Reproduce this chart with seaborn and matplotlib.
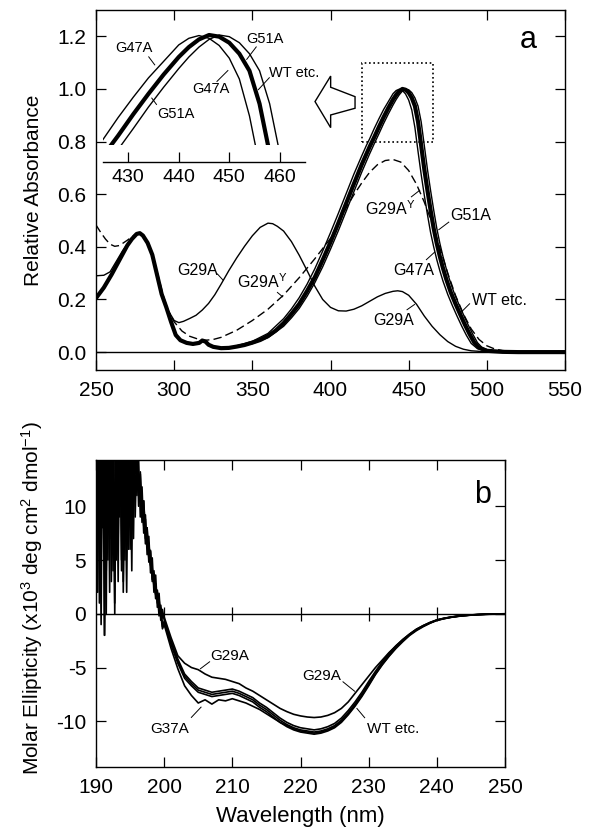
import numpy as np
import matplotlib
matplotlib.use("Agg")
import matplotlib.pyplot as plt
import seaborn as sns
from matplotlib.patches import Polygon, Rectangle

# ---------------- Panel a: absorbance spectra ----------------
wt_wl = [250, 255, 260, 265, 270, 273, 276, 278, 280, 283, 286, 289, 292, 295, 298, 301, 304, 308,
         312, 316, 318, 320, 322, 325, 330, 335, 340, 345, 350, 355, 360, 365, 370, 375, 380, 385,
         390, 395, 400, 405, 410, 415, 420, 425, 428, 431, 434, 437, 440, 442, 444, 446, 448, 450,
         452, 454, 456, 458, 460, 462, 464, 466, 468, 470, 472, 474, 477, 480, 483, 486, 489, 492,
         495, 500, 510, 520, 550]
wt_abs = [0.205, 0.245, 0.295, 0.35, 0.405, 0.43, 0.449, 0.452, 0.443, 0.415, 0.37, 0.295, 0.22,
          0.17, 0.115, 0.065, 0.045, 0.035, 0.031, 0.035, 0.044, 0.04, 0.028, 0.02, 0.015, 0.016,
          0.021, 0.027, 0.036, 0.046, 0.061, 0.082, 0.11, 0.145, 0.183, 0.232, 0.285, 0.35, 0.418,
          0.49, 0.565, 0.64, 0.713, 0.78, 0.817, 0.856, 0.893, 0.928, 0.96, 0.978, 0.992, 1.0, 0.997,
          0.986, 0.966, 0.935, 0.875, 0.785, 0.695, 0.615, 0.54, 0.47, 0.412, 0.362, 0.318, 0.278,
          0.226, 0.183, 0.143, 0.104, 0.068, 0.036, 0.017, 0.005, 0.001, 0.0, 0.0]

g47a_wl = [340, 350, 360, 370, 375, 380, 385, 390, 395, 400, 405, 410, 415, 420, 423, 425, 428, 431,
           434, 437, 440, 442, 444, 446, 448, 450, 452, 454, 456, 458, 460, 462, 464, 466, 468, 470,
           472, 475, 478, 481, 484, 487, 490, 494, 500, 510]
g47a_abs = [0.024, 0.041, 0.071, 0.127, 0.164, 0.207, 0.258, 0.317, 0.384, 0.454, 0.527, 0.602,
            0.677, 0.746, 0.786, 0.81, 0.85, 0.887, 0.922, 0.952, 0.982, 0.994, 0.999, 0.994, 0.981,
            0.958, 0.92, 0.853, 0.762, 0.675, 0.596, 0.523, 0.455, 0.4, 0.351, 0.308, 0.269, 0.219,
            0.176, 0.136, 0.098, 0.063, 0.033, 0.013, 0.004, 0.0]

g51a_wl = [340, 350, 360, 370, 375, 380, 385, 390, 395, 400, 405, 410, 415, 420, 425, 428, 431, 434,
           437, 440, 442, 444, 446, 448, 450, 452, 454, 456, 458, 460, 462, 464, 466, 468, 470, 472,
           474, 476, 479, 482, 485, 488, 491, 494, 497, 502, 512]
g51a_abs = [0.019, 0.032, 0.055, 0.098, 0.13, 0.166, 0.212, 0.264, 0.324, 0.391, 0.461, 0.535,
            0.61, 0.684, 0.753, 0.792, 0.83, 0.869, 0.905, 0.939, 0.96, 0.978, 0.992, 1.0, 0.997,
            0.986, 0.966, 0.935, 0.875, 0.785, 0.695, 0.615, 0.54, 0.47, 0.412, 0.362, 0.318, 0.278,
            0.226, 0.183, 0.143, 0.104, 0.068, 0.036, 0.017, 0.005, 0.001]

g29a_wl = [250, 255, 259, 263, 267, 270, 273, 276, 278, 280, 283, 286, 290, 293, 296, 300, 303, 306,
           310, 314, 318, 322, 326, 330, 335, 340, 345, 350, 355, 360, 363, 366, 370, 375, 380, 385,
           390, 395, 400, 405, 410, 415, 420, 425, 430, 435, 440, 443, 446, 450, 455, 460, 465, 470,
           475, 480, 485, 490, 500, 520, 550]
g29a_abs = [0.29, 0.292, 0.305, 0.345, 0.385, 0.41, 0.432, 0.449, 0.452, 0.445, 0.415, 0.37, 0.275,
            0.21, 0.16, 0.12, 0.112, 0.117, 0.128, 0.14, 0.16, 0.185, 0.218, 0.258, 0.31, 0.358,
            0.402, 0.442, 0.474, 0.49, 0.488, 0.478, 0.46, 0.42, 0.368, 0.31, 0.25, 0.2, 0.17, 0.157,
            0.156, 0.163, 0.176, 0.193, 0.21, 0.223, 0.231, 0.233, 0.23, 0.216, 0.182, 0.137, 0.098,
            0.066, 0.04, 0.022, 0.011, 0.005, 0.001, 0.0, 0.0]

g29ay_wl = [250, 253, 256, 259, 262, 265, 270, 275, 278, 280, 283, 286, 290, 293, 296, 300, 305, 310,
            315, 320, 325, 330, 340, 350, 360, 370, 380, 390, 400, 405, 410, 415, 420, 425, 430, 435,
            440, 445, 450, 455, 460, 465, 470, 475, 480, 485, 490, 495, 500, 505, 510, 520, 550]
g29ay_abs = [0.483, 0.455, 0.43, 0.41, 0.402, 0.405, 0.425, 0.447, 0.452, 0.445, 0.415, 0.37, 0.285,
             0.215, 0.16, 0.115, 0.08, 0.06, 0.05, 0.045, 0.048, 0.056, 0.083, 0.12, 0.163, 0.217,
             0.283, 0.355, 0.432, 0.49, 0.548, 0.598, 0.643, 0.683, 0.712, 0.728, 0.732, 0.722, 0.69,
             0.638, 0.57, 0.49, 0.395, 0.3, 0.215, 0.145, 0.088, 0.048, 0.024, 0.012, 0.006, 0.001, 0.0]

a_xticks = [250, 300, 350, 400, 450, 500, 550]
a_yticks = [0.0, 0.2, 0.4, 0.6, 0.8, 1.0, 1.2]
inset_xticks = [430, 440, 450, 460]

# ---------------- Panel b: CD spectra ----------------
cd_wl = list(np.arange(190, 200, 0.25)) + list(np.arange(200, 251, 1.0))

wt_cd = [18, 2, 22, 6, 25, -2, 19, 5, 24, 8, 21, 1, 26, 7, 20, 4, 23, 9, 19, 6, 22, 10, 18, 9,
         16, 10, 13, 8.5, 10.5, 7, 8, 4.8, 5.8, 3.0, 3.6, 1.4, 2.0, -0.2, 0.5, -1.2,
         -0.7, -2.7, -4.4, -5.8, -6.5, -7.1, -7.3, -7.5, -7.4, -7.3, -7.2, -7.4, -7.7, -8.0, -8.5,
         -8.9, -9.4, -9.9, -10.3, -10.6, -10.8, -10.9, -11.0, -10.9, -10.7, -10.4, -9.9, -9.2, -8.4,
         -7.5, -6.5, -5.5, -4.6, -3.8, -3.1, -2.5, -1.95, -1.5, -1.15, -0.85, -0.6, -0.45, -0.33,
         -0.24, -0.17, -0.12, -0.08, -0.05, -0.03, -0.02, -0.01]
g47a_cd = [3, 20, 7, 24, 10, 17, 0, 23, 9, 18, 4, 25, 6, 21, 11, 19, 3, 22, 8, 24, 12, 17, 7, 20,
           11, 14.5, 9, 11.8, 7.5, 9.2, 5.5, 7.2, 3.8, 5.2, 2.0, 3.6, 0.6, 1.9, -0.6, 0.4,
           -0.55, -2.5, -4.2, -5.6, -6.3, -6.9, -7.1, -7.3, -7.2, -7.1, -7.0, -7.2, -7.5, -7.8, -8.3,
           -8.7, -9.2, -9.7, -10.1, -10.4, -10.6, -10.7, -10.8, -10.7, -10.5, -10.2, -9.7, -9.0,
           -8.2, -7.3, -6.3, -5.35, -4.45, -3.65, -2.97, -2.4, -1.88, -1.43, -1.1, -0.82, -0.58,
           -0.43, -0.32, -0.23, -0.16, -0.11, -0.07, -0.04, -0.02, -0.01, 0.0]
g51a_cd = [21, 8, 16, -1, 23, 11, 5, 20, 2, 25, 12, 6, 19, 3, 24, 10, 17, 5, 21, 13, 18, 4, 22, 13,
           15, 11.5, 12, 9, 9.8, 6.5, 7.4, 5.5, 4.6, 4.2, 2.6, 2.8, 1.0, 1.3, -0.2, -0.8,
           -0.85, -2.85, -4.6, -6.0, -6.7, -7.3, -7.5, -7.7, -7.6, -7.5, -7.4, -7.6, -7.9, -8.2, -8.7,
           -9.1, -9.6, -10.1, -10.5, -10.8, -11.0, -11.1, -11.2, -11.1, -10.9, -10.6, -10.1, -9.4,
           -8.6, -7.7, -6.7, -5.65, -4.75, -3.95, -3.23, -2.6, -2.02, -1.57, -1.2, -0.88, -0.62,
           -0.47, -0.34, -0.25, -0.18, -0.13, -0.09, -0.06, -0.04, -0.02, -0.01]
g37a_cd = [12, 24, 1, 18, 8, 22, 4, 15, 26, 7, 19, 0, 17, 11, 23, 5, 20, 14, 2, 18, 9, 24, 11, 16,
           13, 12.5, 10.5, 10.8, 8.2, 8.8, 6.2, 6.6, 4.5, 4.0, 3.3, 1.8, 1.9, 0.3, 0.0, -1.4,
           -1.0, -3.2, -5.1, -6.7, -7.6, -8.3, -8.0, -8.4, -8.0, -8.1, -7.9, -8.1, -8.3, -8.6, -8.9,
           -9.3, -9.7, -10.1, -10.4, -10.7, -10.9, -11.0, -11.1, -11.0, -10.8, -10.5, -10.0, -9.3,
           -8.5, -7.6, -6.6, -5.6, -4.7, -3.9, -3.15, -2.5, -1.95, -1.5, -1.15, -0.85, -0.6, -0.45,
           -0.33, -0.24, -0.17, -0.12, -0.08, -0.05, -0.03, -0.02, -0.01]
g29a_cd = [8, 23, 14, 4, 20, -2, 18, 10, 24, 3, 16, 22, 5, 19, 9, 25, 2, 16, 12, 21, 6, 19, 15, 21,
           14, 11, 13.2, 9.6, 10.5, 7.6, 8.0, 5.2, 5.9, 3.2, 4.0, 1.9, 2.2, 0.5, 0.8, -0.4,
           -0.3, -2.2, -3.9, -4.6, -5.0, -5.2, -5.6, -5.9, -6.0, -6.1, -6.3, -6.5, -6.9, -7.2, -7.6,
           -8.0, -8.4, -8.8, -9.1, -9.35, -9.5, -9.6, -9.65, -9.6, -9.45, -9.2, -8.8, -8.2, -7.4,
           -6.6, -5.8, -5.0, -4.3, -3.6, -3.0, -2.4, -1.9, -1.45, -1.1, -0.8, -0.57, -0.42, -0.31,
           -0.22, -0.16, -0.11, -0.07, -0.04, -0.02, -0.01, 0.0]

b_xticks = [190, 200, 210, 220, 230, 240, 250]
b_yticks = [-10, -5, 0, 5, 10]
zero_line_ticks = [200, 210, 220, 230, 240]

# ---------------- Style ----------------
sns.set_theme(style="white")
plt.rcParams.update({
    "font.family": ["Liberation Sans", "DejaVu Sans"],
    "axes.unicode_minus": False,
    "mathtext.fontset": "custom",
    "mathtext.rm": "Liberation Sans",
    "mathtext.it": "Liberation Sans:italic",
    "mathtext.bf": "Liberation Sans:bold",
    "axes.edgecolor": "black",
    "axes.linewidth": 1.0,
    "text.color": "black",
    "axes.labelcolor": "black",
    "xtick.color": "black",
    "ytick.color": "black",
})

fig = plt.figure(figsize=(5.91, 8.34), dpi=100)
W, H = 591.0, 834.0


def px_axes(x0, y0, x1, y1):
    return fig.add_axes([x0 / W, 1 - y1 / H, (x1 - x0) / W, (y1 - y0) / H])


def line(ax, x, y, lw=1.0, **kw):
    sns.lineplot(x=x, y=y, ax=ax, color="black", linewidth=lw, estimator=None,
                 sort=False, legend=False, **kw)
    return ax.lines[-1]


def leader(ax, p, q, lw=0.7):
    ax.plot([p[0], q[0]], [p[1], q[1]], color="black", lw=lw, solid_capstyle="butt")


# ---------- Panel a ----------
axa = px_axes(96, 10, 565, 370)
axa.axhline(0, color="black", lw=1.0)
line(axa, g29a_wl, g29a_abs, lw=1.0)
dl = line(axa, g29ay_wl, g29ay_abs, lw=1.0)
dl.set_dashes([6, 3])
line(axa, wt_wl, wt_abs, lw=3.0)
line(axa, g47a_wl, g47a_abs, lw=1.0)
line(axa, g51a_wl, g51a_abs, lw=1.0)

axa.set_xlim(250, 550)
axa.set_ylim(-0.068, 1.30)
axa.set_xticks(a_xticks)
axa.set_yticks(a_yticks)
axa.set_xticklabels([str(t) for t in a_xticks])
axa.set_yticklabels([f"{t:.1f}" for t in a_yticks])
axa.tick_params(axis="both", direction="in", length=7.5, width=0.9, top=True, right=True,
                bottom=True, left=True, labelsize=15)
axa.tick_params(axis="x", pad=8)
axa.tick_params(axis="y", pad=7)
axa.set_ylabel("Relative Absorbance", fontsize=15)
axa.yaxis.set_label_coords(-0.112, 0.5)
axa.text(0.921, 0.917, "a", transform=axa.transAxes, fontsize=22, ha="center", va="center")

# dotted zoom box and hollow arrow
axa.add_patch(Rectangle((420, 0.80), 45.6, 0.297, fill=False, ec="black", lw=1.2,
                        ls=(0, (1, 1.6))))
arrow_pts = [(390.1, 0.952), (400.1, 1.049), (400.1, 1.0065), (415.7, 0.9707), (415.7, 0.9266),
             (400.1, 0.9011), (400.1, 0.8529)]
axa.add_patch(Polygon(arrow_pts, closed=True, fill=False, ec="black", lw=1.0, joinstyle="miter"))

fs_a = 11.5
axa.text(301.8, 0.293, "G29A", fontsize=fs_a, ha="left", va="baseline")
leader(axa, (327.5, 0.298), (331.5, 0.272))
axa.text(340.2, 0.243, "G29A$^{\\mathrm{Y}}$", fontsize=fs_a, ha="left", va="baseline")
leader(axa, (365.8, 0.228), (369.6, 0.209))
axa.text(422.1, 0.521, "G29A$^{\\mathrm{Y}}$", fontsize=fs_a, ha="left", va="baseline")
leader(axa, (451.5, 0.589), (457.3, 0.616))
axa.text(476.4, 0.502, "G51A", fontsize=fs_a, ha="left", va="baseline")
leader(axa, (475.9, 0.495), (469.0, 0.464))
axa.text(440.0, 0.293, "G47A", fontsize=fs_a, ha="left", va="baseline")
leader(axa, (461.1, 0.350), (466.8, 0.381))
axa.text(490.3, 0.179, "WT etc.", fontsize=fs_a, ha="left", va="baseline")
leader(axa, (489.2, 0.185), (482.8, 0.147))
axa.text(427.2, 0.103, "G29A", fontsize=fs_a, ha="left", va="baseline")
leader(axa, (448.7, 0.160), (454.0, 0.182))

# ---------- Inset ----------
axi = px_axes(103, 30, 305, 145)
axi.set_facecolor("none")
line(axi, wt_wl, wt_abs, lw=3.0)
line(axi, g47a_wl, g47a_abs, lw=1.0)
line(axi, g51a_wl, g51a_abs, lw=1.0)
axi.set_xlim(425, 465)
axi.set_ylim(0.80, 1.0091)
for s in ("top", "left", "right"):
    axi.spines[s].set_visible(False)
axi.spines["bottom"].set_position(("outward", 12.2))
axi.set_xticks(inset_xticks)
axi.set_xticklabels([str(t) for t in inset_xticks])
axi.set_yticks([])
axi.tick_params(axis="x", direction="in", length=7.5, width=0.9, bottom=True, labelsize=14, pad=5)
axi.set_xlabel("")
axi.set_ylabel("")
fs_i = 10.5
axi.text(427.4, 0.970, "G47A", fontsize=fs_i, ha="left", va="baseline")
leader(axi, (434.0, 0.961), (435.3, 0.945))
axi.text(435.66, 0.849, "G51A", fontsize=fs_i, ha="left", va="baseline")
leader(axi, (435.65, 0.873), (434.6, 0.886))
axi.text(453.4, 0.985, "G51A", fontsize=fs_i, ha="left", va="baseline")
leader(axi, (455.4, 0.979), (453.4, 0.955))
axi.text(457.8, 0.924, "WT etc.", fontsize=fs_i, ha="left", va="baseline")
leader(axi, (458.0, 0.923), (455.7, 0.900))
axi.text(442.6, 0.894, "G47A", fontsize=fs_i, ha="left", va="baseline")
leader(axi, (447.5, 0.915), (449.8, 0.936))

# ---------- Panel b ----------
axb = px_axes(96, 460, 505, 767)
axb.axhline(0, color="black", lw=1.0)
for vals in (g37a_cd, g51a_cd, wt_cd, g47a_cd, g29a_cd):
    line(axb, cd_wl, vals, lw=1.2)
axb.plot(zero_line_ticks, [0] * len(zero_line_ticks), ls="none", marker="|", ms=10.5,
         mew=0.9, color="black")
axb.set_xlim(190, 250)
axb.set_ylim(-14.25, 14.3)
axb.set_xticks(b_xticks)
axb.set_yticks(b_yticks)
axb.set_xticklabels([str(t) for t in b_xticks])
axb.set_yticklabels([str(t) for t in b_yticks])
axb.tick_params(axis="both", direction="in", length=7.5, width=0.9, top=True, right=True,
                bottom=True, left=True, labelsize=15)
axb.tick_params(axis="x", pad=8)
axb.tick_params(axis="y", pad=7)
axb.set_xlabel("Wavelength (nm)", fontsize=16)
axb.xaxis.set_label_coords(0.5, -0.127)
axb.set_ylabel("Molar Ellipticity (x10$^{3}$ deg cm$^{2}$ dmol$^{-1}$)", fontsize=15)
axb.yaxis.set_label_coords(-0.125, 0.55)
axb.text(0.946, 0.886, "b", transform=axb.transAxes, fontsize=22, ha="center", va="center")

fs_b = 11
axb.text(206.72, -4.28, "G29A", fontsize=fs_b, ha="left", va="baseline")
leader(axb, (206.72, -4.44), (205.26, -5.14))
axb.text(220.32, -6.14, "G29A", fontsize=fs_b, ha="left", va="baseline")
leader(axb, (226.18, -6.30), (227.99, -7.23))
axb.text(229.71, -11.10, "WT etc.", fontsize=fs_b, ha="left", va="baseline")
leader(axb, (229.46, -9.70), (228.23, -8.77))
axb.text(197.9, -11.07, "G37A", fontsize=fs_b, ha="left", va="baseline")
leader(axb, (203.94, -9.67), (205.46, -8.65))

fig.savefig("out.png", dpi=100)
